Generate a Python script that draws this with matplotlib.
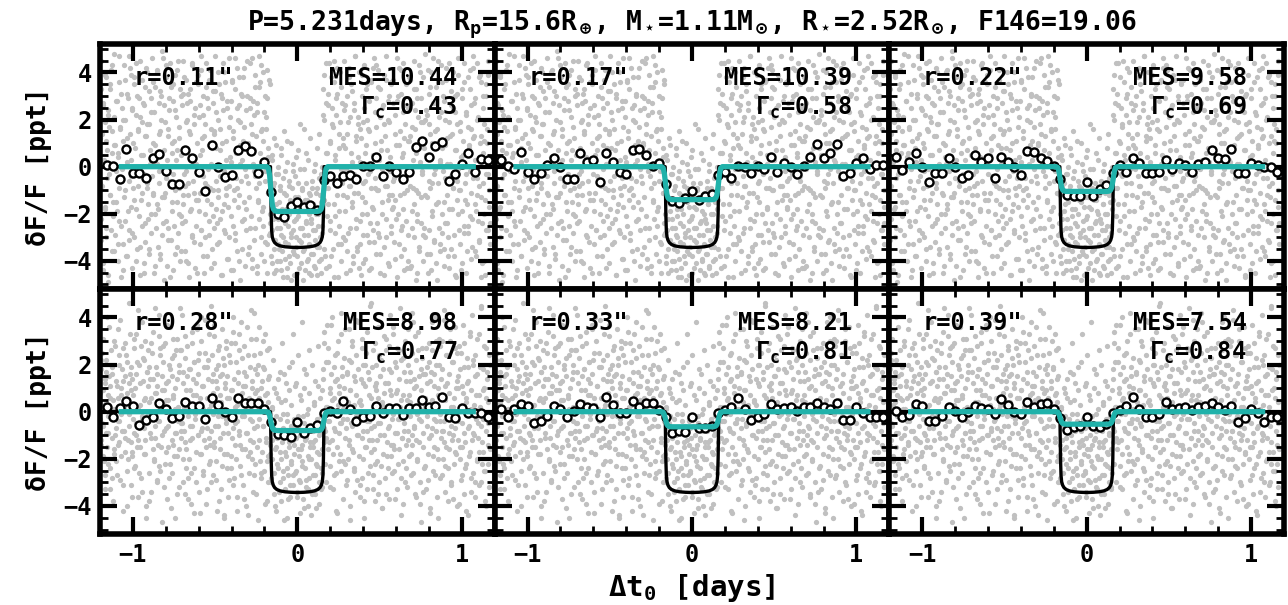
import numpy as np
import matplotlib.pyplot as plt

plt.rcParams['font.family'] = 'DejaVu Sans Mono'
plt.rcParams['font.weight'] = 'bold'
plt.rcParams['axes.labelweight'] = 'bold'
plt.rcParams['axes.titleweight'] = 'bold'
plt.rcParams['mathtext.fontset'] = 'custom'
plt.rcParams['mathtext.rm'] = 'DejaVu Sans Mono:bold'
plt.rcParams['mathtext.it'] = 'DejaVu Sans Mono:bold'
plt.rcParams['mathtext.bf'] = 'DejaVu Sans Mono:bold'
plt.rcParams['mathtext.sf'] = 'DejaVu Sans Mono:bold'

title = (r'P=5.231days, R$_{\rm p}$=15.6R$_\oplus$, M$_\star$=1.11M$_\odot$, '
         r'R$_\star$=2.52R$_\odot$, F146=19.06')

# aperture radius, MES, contamination
radius = ['0.11', '0.17', '0.22', '0.28', '0.33', '0.39']
mes = ['10.44', '10.39', '9.58', '8.98', '8.21', '7.54']
gamma = ['0.43', '0.58', '0.69', '0.77', '0.81', '0.84']

# diluted (teal) transit depth per panel [ppt]
teal_depth = [1.9, 1.4, 1.05, 0.8, 0.64, 0.53]

# undiluted transit model
model_t = [-1.25, -0.163, -0.161, -0.159, -0.156, -0.152, -0.146, -0.138, -0.125, -0.105,
           -0.075, -0.04, 0.0, 0.04, 0.075, 0.105, 0.125, 0.138, 0.146, 0.152, 0.156,
           0.159, 0.161, 0.163, 1.25]
model_f = [0, 0, -1.0, -2.0, -2.7, -2.98, -3.12, -3.22, -3.30, -3.36, -3.40, -3.42, -3.43,
           -3.42, -3.40, -3.36, -3.30, -3.22, -3.12, -2.98, -2.7, -2.0, -1.0, 0, 0]

# diluted model shape (normalised to depth 1)
teal_t = [-1.07, -0.185, -0.175, -0.168, -0.16, -0.152, -0.145, -0.135, -0.12, 0.0,
          0.12, 0.135, 0.145, 0.152, 0.16, 0.168, 0.175, 0.185, 1.07]
teal_s = [0, 0, -0.04, -0.2, -0.55, -0.85, -0.95, -0.99, -1.0, -1.0,
          -1.0, -0.99, -0.95, -0.85, -0.55, -0.2, -0.04, 0, 0]

# binned light curves, bins every 0.04 d from -1.16 to 1.16
bin_t = np.arange(-29, 30) * 0.04
binned = [
    [0.07, 0.03, -0.53, 0.77, -0.25, -0.28, -0.46, 0.35, 0.53, -0.18,
     -0.74, -0.74, 0.70, 0.35, -0.21, -1.02, 0.94, 0.0, -0.42, -0.35,
     0.70, 0.87, 0.66, -0.25, 0.21, -1.09, -2.0, -2.15, -1.68, -1.52,
     -1.71, -1.61, -1.85, -0.56, -0.39, -0.70, -0.39, -0.35, -0.52, 0.04,
     0.04, 0.39, -0.39, 0.04, -0.24, -0.52, -0.24, 0.84, 1.09, 0.42,
     0.87, 1.05, -0.59, -0.32, 0.10, 0.59, -0.21, 0.31, 0.30],
    [0.28, 0.03, -0.11, 0.63, -0.21, -0.53, -0.28, 0.07, 0.35, 0.0,
     -0.53, -0.53, 0.56, 0.21, 0.28, -0.67, 0.59, 0.21, -0.21, -0.31,
     0.70, 0.77, 0.49, 0.03, 0.17, -0.74, -1.47, -1.54, -1.33, -1.05,
     -1.40, -1.26, -1.15, -0.35, -0.24, -0.46, 0.04, -0.03, -0.28, 0.04,
     -0.10, 0.42, -0.24, 0.14, 0.0, -0.31, 0.03, 0.42, 0.98, 0.35,
     0.56, 0.98, -0.39, -0.25, 0.14, 0.35, -0.11, 0.07, 0.07],
    [0.42, -0.14, 0.21, 0.56, 0.0, -0.66, -0.25, -0.25, 0.35, 0.0,
     -0.46, -0.35, 0.49, 0.21, 0.35, -0.46, 0.42, 0.21, 0.0, -0.35,
     0.67, 0.63, 0.35, 0.25, 0.03, -0.53, -1.19, -1.24, -1.24, -0.67,
     -1.26, -0.95, -0.77, -0.28, 0.07, -0.21, 0.35, 0.14, -0.28, -0.28,
     -0.21, 0.28, -0.11, 0.17, 0.07, -0.21, 0.11, 0.21, 0.70, 0.35,
     0.31, 0.77, -0.28, -0.25, 0.14, 0.07, 0.0, 0.0, -0.21],
    [0.21, -0.21, 0.17, 0.47, 0.24, -0.57, -0.35, -0.24, 0.35, 0.10,
     -0.28, -0.18, 0.43, 0.24, 0.26, -0.31, 0.57, 0.28, 0.0, -0.21,
     0.57, 0.38, 0.38, 0.38, 0.10, -0.43, -0.96, -0.99, -1.06, -0.43,
     -0.92, -0.71, -0.57, -0.07, 0.04, -0.07, 0.47, 0.10, -0.38, -0.24,
     -0.18, 0.26, -0.04, 0.17, 0.14, -0.14, 0.14, 0.14, 0.50, 0.18,
     0.24, 0.61, -0.24, -0.28, 0.14, -0.04, -0.04, -0.04, -0.24],
    [0.10, -0.21, 0.10, 0.33, 0.26, -0.47, -0.40, -0.18, 0.26, 0.10,
     -0.21, 0.04, 0.33, 0.18, 0.17, -0.21, 0.61, 0.28, -0.04, -0.04,
     0.47, 0.18, 0.38, 0.35, 0.07, -0.24, -0.89, -0.81, -0.85, -0.21,
     -0.71, -0.71, -0.61, -0.04, 0.07, 0.18, 0.57, 0.10, -0.35, -0.24,
     -0.10, 0.33, 0.10, 0.14, 0.18, 0.04, 0.18, 0.18, 0.38, 0.18,
     0.10, 0.38, -0.35, -0.35, 0.18, -0.04, -0.21, -0.24, -0.21],
    [0.04, -0.21, -0.14, 0.33, 0.26, -0.38, -0.38, -0.18, 0.18, 0.04,
     -0.21, 0.0, 0.26, 0.14, 0.11, -0.10, 0.54, 0.28, -0.03, -0.10,
     0.43, 0.18, 0.33, 0.38, 0.10, -0.28, -0.78, -0.67, -0.61, -0.21,
     -0.61, -0.64, -0.52, -0.04, 0.07, 0.26, 0.64, 0.10, -0.21, -0.21,
     -0.10, 0.43, 0.10, 0.14, 0.18, 0.07, 0.18, 0.26, 0.38, 0.18,
     0.07, 0.26, -0.43, -0.28, 0.10, -0.04, -0.43, -0.24, -0.21],
]

# unbinned flux (0.1 ppt units), two sectors each evenly sampled in time
top_a = """
12 -31 45 -8 27 -44 3 19 -17 38 -26 7 -49 22 -3 33 -12 41 -36 15 -21 9 48 -29 0
-15 28 -40 6 36 -23 17 -6 -47 25 11 -33 43 -10 20 -38 2 31 -19 47 -27 14 -4 39 -43
24 -9 35 -30 8 -18 44 -35 16 -1 29 -46 21 -14 37 -25 5 -41 26 13 -32 42 -7 18 -22
32 -37 1 23 -28 46 -11 10 -45 34 -20 4 40 -16 -34 27 -2 15 -39 30 -13 49 -24 7 -48
19 -5 38 -42 13 -26 29 -8 44 -31 6 -19 35 -44 11 24 -37 3 41 -15 -28 17 -9 33 -21
-36 26 -12 45 -3 -23 8 37 -40 20 -7 31 -47 14 28 -18 43 -30 2 22 -11 -43 36 -25 10
39 -14 21 -33 5 47 -27 12 -4 30 -45 18 -20 34 -8 -38 25 9 -29 41 -16 1 -35 27 -10
14 -41 32 -6 23 -24 40 -13 -32 16 7 -46 29 -19 44 -2 -27 36 -9 11 -39 25 -17 46 -30
4 28 -21 37 -44 15 -10 33 -28 -5 42 -36 20 -12 26 -48 9 31 -23 3 38 -15 17 -42 24
-18 45 -7 10 -34 29 -26 18 46 -39 1 22 -31 39 -4 13 -45 27 -14 34 -22 6 43 -37 16
-25 11 -40 30 -2 21 -33 41 -11 8 -29 35 -20 -38 5 -27 -8 -45 12 -31 -16 -3 -40 -22 0
-35 -10 -26 8 -44 -18 -30 -5 15 -39 -24 -12 -47 2 -33 -20 -8 -41 -28 10 -15 -36 -2 -23 -46
-13 -30 4 -38 -21 -7 -43 -17 18 -32 -26 -9 -48 -1 -35 -14 -24 6 -40 -19 -29 -11 -45 12 -22
-37 -6 -27 -16 -42 1 -31 -20 -9 -46 -25 14 -34 -12 -39 -3 -28 -18 22 -35 39 -9 27 -43 6
31 -16 44 -27 10 -38 25 -4 17 -47 36 -21 3 29 -12 42 -33 8 -25 19 -40 34 -7 12 -30
45 -19 26 -1 -36 14 -28 38 -8 21 -44 6 32 -15 -41 24 -3 47 -26 11 -34 18 -11 40 -23
2 -46 30 -13 19 -29 43 -6 -39 9 35 -20 16 -32 28 -2 -43 37 -17 5 -27 46 -9 23 -37
17 -24 41 -10 -30 33 -45 7 25 -15 -3 39 -34 13 -22 47 -8 20 -41 30 -12 4 -28 35 -18
-6 37 -32 22 -14 9 -47 28 -20 42 -1 15 -38 31 -25 6 44 -11 -35 18 -4 26 -43 11 -29
38 -8 13 -42 27 -19 3 45 -30 16 -10 33 -23 -45 21 8 -36 40 -13 29 -2 -40 19 -26 48
-12 24 -37 5 41 -27 18 -9 34 -44 10 -21 46 -3 -31 15 27 -16 -48 36 -7 21 -33 2 43
8 -28 30 -15 -42 20 -5 37 -24 12 -38 44 -18 1 26 -35 14 -9 40 -29 23 -46 7 31 -14
-20 46 -10 19 -33 4 29 -41 11 -25 36 -7 -45 22 -16 38 -28 9 -2 33 -39 16 -22 42 -5
27 -36 3 -19 44 -12 21 -31 -8 39 -47 13 -24 30 6 -40 18 -14 35 -27 10 -3 45 -17 -33
"""
top_b = """
-7 33 -22 14 -41 26 2 -18 39 -30 11 -5 24 -46 17 -12 35 -27 6 43 -15 21 -36 9 -2
28 -19 4 -33 47 -9 16 -25 31 -1 -44 20 -13 37 -23 8 -38 12 29 -6 -31 42 -17 3 25
-28 10 38 -14 -2 22 -40 30 -8 15 -21 45 -34 5 19 -11 27 -45 -3 34 -24 13 -9 40 -16
18 -35 7 29 -20 -4 36 -12 23 -42 9 -26 1 41 -18 14 -7 32 -37 20 -1 -29 46 -13 26
-11 43 -23 3 16 -31 24 -6 -47 34 -15 10 28 -3 -25 39 -10 21 -34 7 45 -20 12 -40 30
5 -24 31 -16 38 -8 -36 19 -2 27 -12 -41 15 33 -19 4 -29 44 -6 18 -32 25 -14 1 -45
35 -3 -19 26 -11 41 -27 7 -38 22 13 -7 -30 44 -14 29 -1 -23 37 -9 16 -43 8 -21 32
-26 15 47 -18 8 -33 20 -10 35 -4 -22 31 -46 10 24 -16 40 -28 3 -12 28 -5 -39 17 -8
21 -44 2 36 -25 12 -14 46 -31 6 -9 25 -17 38 -40 1 19 -6 30 -35 11 -22 42 -1 -27
-4 30 -37 9 -13 25 44 -21 14 -43 28 -2 7 -26 34 -9 -42 23 -15 47 -7 36 -30 15 -19
40 -17 23 -6 -32 16 -45 29 -11 4 37 -24 -28 -12 -41 3 -22 -35 -7 -19 9 -44 -26 -3 -33
-15 -40 -8 -29 5 -36 -21 -47 -11 -2 -32 -18 -43 11 -25 -6 -38 -14 -30 -48 -9 1 -27 -37 -17
-4 -34 -22 -45 7 -13 -31 -26 -1 -41 -18 -10 -36 16 -29 -44 -7 -23 -14 -39 3 -20 -33 -12 -46
-24 -9 -37 -16 -2 -43 -27 -11 -34 8 -20 -40 -5 -30 -15 -45 -25 0 33 -14 20 -38 6 44 -21
-9 26 -42 11 -23 38 -3 18 -35 45 -16 5 -28 22 -7 31 -47 14 -19 40 -1 -33 27 -12 9
24 -31 8 -45 30 -13 19 -4 42 -26 -8 35 -17 2 -38 27 -11 47 -22 13 -36 4 21 -43 16
-33 12 -20 39 -7 -41 25 -15 6 33 -29 20 -3 -44 15 -24 36 -9 1 -18 42 -32 10 -5 29
43 -10 34 -28 3 21 -37 11 -20 -1 26 -46 18 -8 37 -30 7 -14 28 -42 19 -2 -25 36 -12
-17 27 -5 -39 14 -22 46 -3 30 -33 9 -12 41 -27 4 -18 23 -44 12 -6 35 -23 -10 25 -40
11 -43 37 -1 -26 17 -9 33 -16 24 -48 6 -20 29 -11 43 -34 2 -24 19 -3 38 -29 8 20
-30 5 22 -13 -45 31 -6 14 -37 40 -19 -7 27 -32 10 -1 34 -41 16 -15 45 -26 3 -36 23
36 -20 -2 28 -35 9 -24 42 -12 1 -30 19 -43 13 -4 32 -18 25 -9 -38 7 30 -47 18 -6
-1 39 -27 15 -10 -44 33 -19 5 -28 44 -14 23 -3 -36 17 -25 8 41 -21 -11 26 -34 12 47
13 -16 29 -38 20 -5 -23 38 -32 10 -13 36 -41 -7 25 -20 11 -46 30 -3 16 -27 39 -10 -24
"""
bottom_a = """
8 -14 22 -5 31 -19 3 12 -27 17 -9 40 -2 -22 15 -33 6 26 -11 19 -38 1 -16 28 -7
-21 11 -4 35 -13 24 -29 7 -1 18 -42 13 -8 29 -17 4 -25 21 -12 46 -6 16 -31 9 -19
14 -3 27 -24 10 -10 33 -15 2 -36 20 -7 12 -28 38 -2 23 -18 5 -12 30 -40 17 -5 11
-26 19 -9 6 -34 25 -1 14 -20 44 -11 8 -30 16 -4 32 -23 1 27 -15 9 -47 21 -8 3
29 -17 5 -37 13 -6 20 -22 36 -3 15 -26 7 -14 24 -45 10 -9 31 -19 2 17 -32 26 -11
-5 41 -20 12 -8 23 -35 4 -16 28 -2 -28 18 -12 9 -39 34 -6 14 -24 21 -1 7 -30 37
16 -10 25 -43 3 -18 30 -7 11 -25 19 -4 39 -15 6 -33 22 -11 1 -21 45 -8 13 -27 8
-13 32 -6 18 -29 10 -2 26 -38 15 -16 4 -23 35 -9 20 -44 12 -3 27 -18 6 -36 24 -1
21 -24 9 -11 40 -31 14 -5 29 -20 3 -42 17 -8 33 -14 7 -27 23 -2 11 -37 28 -16 5
-9 36 -19 2 -26 19 -12 43 -4 13 -34 24 -7 8 -22 31 -15 16 -46 6 -3 25 -28 10 -17
30 -6 18 -39 7 -13 26 -21 4 -30 15 -1 -18 -30 2 -12 22 -26 -5 -40 8 -15 -22 14 -9
-34 -3 17 -20 -10 29 -28 -7 -46 5 -17 12 -24 -1 -37 19 -13 -31 3 -21 -8 33 -27 -14 -4
11 -25 -11 -36 24 -6 -19 7 -30 -16 38 -23 -2 -41 10 -12 -29 16 -8 -33 1 -20 26 -15 -44
-7 20 -27 -13 4 -35 13 -22 -3 -17 28 -39 -10 6 -24 -1 -32 9 18 -13 34 -8 21 -30 2
-16 27 -4 10 -23 37 -12 5 -33 19 -7 24 -1 -26 14 -43 30 -9 8 -18 42 -5 15 -21 1
23 -11 6 -31 16 -3 -20 35 -14 9 -40 21 -6 28 -17 3 -25 13 -2 39 -29 18 -10 4 -36
-2 14 -28 31 -8 20 -45 11 -15 25 -4 -33 17 -12 7 -23 46 -7 19 -27 2 -16 29 -38 12
9 -21 36 -5 -30 15 -10 22 -41 4 -18 32 -2 12 -35 26 -13 1 -24 18 -6 41 -19 7 -26
33 -1 -16 21 -37 8 -9 27 -22 14 -3 44 -28 5 -11 23 -39 17 -5 30 -14 2 -32 20 -8
-19 13 4 -27 25 -14 38 -6 10 -35 22 -12 1 -21 34 -3 15 -30 9 -47 27 -9 16 -24 3
6 -33 19 -2 -18 29 -11 3 -43 17 -7 26 -25 11 -15 40 -4 20 -36 7 -20 31 -1 -28 14
-27 18 -8 43 -13 5 -23 24 -3 12 -38 8 -16 30 -6 -31 21 -10 2 -22 36 -17 10 -40 25
15 -4 28 -20 1 -29 11 -15 37 -9 19 -24 6 -42 23 -7 13 -19 32 -1 -34 9 -12 22 -26
-10 24 -36 7 -21 16 -5 33 -17 2 -30 45 -13 18 -3 -25 10 -38 27 -8 14 -22 4 -32 20
"""
bottom_b = """
-3 18 -12 25 -6 9 -21 14 -33 4 22 -15 7 -9 36 -24 11 -2 16 -28 5 -18 30 -10 1
13 -27 6 -14 20 -4 39 -19 10 -8 27 -31 2 15 -11 24 -40 8 -20 12 -1 33 -13 19 -36
-17 7 31 -9 -23 16 -5 21 -12 43 -26 3 -15 28 -3 -34 13 -7 22 -18 6 -45 17 -2 26
4 -38 14 -11 29 -1 -16 34 -21 8 -6 19 -29 11 -14 41 -4 24 -25 3 15 -10 28 -32 9
-22 12 -7 37 -15 5 -28 18 -2 -41 23 -12 6 31 -19 1 -9 26 -35 14 -4 20 -16 44 -8
26 -5 17 -30 2 -13 32 -24 9 15 -37 4 -20 18 -6 -26 29 -11 7 -43 21 -3 12 -17 35
-10 22 -34 6 -18 40 -8 11 -27 1 -12 25 -3 -39 19 -7 14 -22 33 -14 3 -30 24 -1 16
37 -15 3 -21 13 -42 20 -6 28 -11 7 -33 16 -2 23 -18 -45 10 -5 30 -24 15 -9 -29 6
-1 29 -19 9 -7 34 -28 2 -14 21 -4 -36 12 26 -10 5 -23 38 -16 8 -31 17 -2 11 -40
15 -9 24 -44 6 -17 -3 31 -20 10 -13 42 -27 3 18 -35 9 -6 20 -12 36 -21 4 -26 13
-6 19 -25 2 33 -11 8 -38 14 -19 27 -4 -14 -28 1 -20 -7 -35 10 -16 -2 -42 -11 6 -24
-9 -30 -17 4 -38 -13 -1 -25 16 -33 -8 -19 -45 -4 -27 9 -15 -36 -6 -22 21 -12 -31 -3 -18
-26 -7 12 -34 -16 -2 -29 -43 -10 5 -21 -14 -37 -5 18 -24 -11 -32 -1 -19 -40 8 -28 -13 -6
-20 -35 -8 -15 3 -27 -12 -41 -4 -23 11 -18 -30 -9 -2 -33 -16 -26 14 -7 29 -22 2 -11 37
-4 21 -13 8 -32 16 -1 40 -18 6 -27 13 -8 -42 25 -15 3 -21 11 -5 33 -25 19 -3 -37
10 -22 35 -7 17 -29 4 -12 22 -46 9 -5 30 -16 1 -24 15 -34 7 24 -10 -2 38 -19 5
-31 3 -11 27 -20 12 -38 20 -1 -15 34 -8 -26 14 -4 45 -17 6 -12 -33 26 -6 11 -22 2
20 -12 6 -35 24 -5 15 -23 3 -41 18 -10 8 -28 31 -1 -19 12 -7 28 -37 9 -14 17 -3
-14 36 -25 1 -9 19 -33 9 -3 26 -16 2 -44 22 -11 7 -21 39 -8 -30 13 -24 5 35 -12
7 -2 17 -18 42 -10 -26 14 -7 32 -36 11 -1 -20 26 -13 4 -39 18 -4 23 -15 -34 1 16
-23 27 -6 12 -29 3 21 -41 13 -10 5 38 -19 -3 16 -27 30 -8 -16 10 -45 20 -4 28 -11
30 -8 -20 39 -4 -34 11 -15 24 -2 -24 16 -9 35 -30 2 -12 21 -37 6 -7 27 -18 13 -1
-12 10 -39 18 -15 25 -5 -27 8 -35 29 -13 4 -22 12 -44 19 -6 34 -17 1 -28 41 -9 20
3 -30 15 -3 31 -20 -11 7 -31 19 -6 44 -22 9 -17 28 -3 -25 6 -40 17 -14 -5 24 -16
"""
clouds = [[np.array(s.split(), dtype=float) / 10 for s in pair]
          for pair in ((top_a, top_b), (bottom_a, bottom_b))]
cloud_t = np.linspace(-1.2, 1.17, 600)

fig, axes = plt.subplots(2, 3, figsize=(12.88, 6.05), dpi=100, sharex=True, sharey=True)
fig.subplots_adjust(left=0.0776, right=0.9969, top=0.927, bottom=0.117, wspace=0, hspace=0)

for i, ax in enumerate(axes.flat):
    row = i // 3
    for c in clouds[row]:
        ax.plot(cloud_t, c, 'o', ms=3.8, mew=0, color='#c0c0c0', zorder=1)
    ax.plot(model_t, model_f, color='black', lw=2.4, zorder=2)
    ax.plot(bin_t, binned[i], 'o', ms=5.8, mfc='white', mec='black', mew=1.7, zorder=3)
    ax.plot(teal_t, np.array(teal_s) * teal_depth[i], color='lightseagreen', lw=3.8, zorder=4)

    ax.text(0.085, 0.835, 'r=' + radius[i] + '"', transform=ax.transAxes, fontsize=17,
            ha='left', va='baseline', zorder=5)
    ax.text(0.905, 0.835, 'MES=' + mes[i], transform=ax.transAxes, fontsize=17,
            ha='right', va='baseline', zorder=5)
    ax.text(0.905, 0.71, r'$\Gamma_{\rm c}$=' + gamma[i], transform=ax.transAxes, fontsize=17,
            ha='right', va='baseline', zorder=5)

    ax.set_xlim(-1.2, 1.17)
    ax.set_ylim(-5.2, 5.2)
    ax.set_xticks([-1, 0, 1])
    ax.set_xticks(np.arange(-1.2, 1.21, 0.2), minor=True)
    ax.set_yticks([-4, -2, 0, 2, 4])
    ax.set_yticks(np.arange(-5, 5.01, 0.5), minor=True)
    ax.tick_params(which='both', direction='in', top=True, right=True, labelsize=17, pad=6)
    ax.tick_params(which='major', length=12, width=3)
    ax.tick_params(which='minor', length=6, width=2)
    for s in ax.spines.values():
        s.set_linewidth(4)

for ax in axes[:, 0]:
    ax.set_ylabel('δF/F [ppt]', fontsize=19, labelpad=8)
axes[1, 1].set_xlabel(r'$\Delta$t$_0$ [days]', fontsize=21, labelpad=4)
axes[0, 1].set_title(title, fontsize=19, pad=10)

plt.savefig('out.png', dpi=100)
